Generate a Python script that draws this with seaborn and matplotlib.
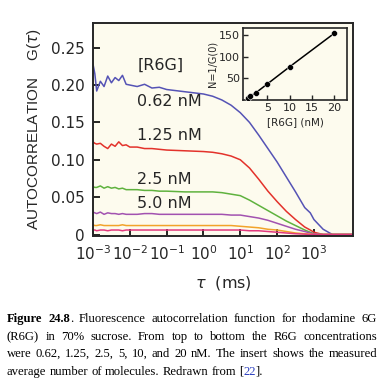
import numpy as np
import pandas as pd
import matplotlib
matplotlib.use("Agg")
import matplotlib.pyplot as plt
import seaborn as sns

# log10 of the delay time tau (ms)
log_tau = [-3.0, -2.95, -2.9, -2.8, -2.7, -2.6, -2.5, -2.4, -2.3, -2.2, -2.1, -2.0,
           -1.8, -1.6, -1.4, -1.2, -1.0, -0.5, 0.0, 0.25, 0.5, 0.75, 1.0, 1.25, 1.5, 1.75,
           2.0, 2.25, 2.5, 2.75, 2.9, 3.0, 3.25, 3.5, 4.05]

g_062 = [0.228, 0.215, 0.192, 0.205, 0.198, 0.212, 0.203, 0.210, 0.206, 0.213, 0.201, 0.200,
         0.198, 0.201, 0.196, 0.197, 0.194, 0.191, 0.188, 0.185, 0.180, 0.173, 0.163, 0.150,
         0.133, 0.115, 0.097, 0.077, 0.057, 0.036, 0.029, 0.020, 0.007, 0.000, 0.000]
g_125 = [0.124, 0.122, 0.121, 0.122, 0.118, 0.115, 0.121, 0.118, 0.124, 0.119, 0.120, 0.117,
         0.117, 0.115, 0.115, 0.114, 0.113, 0.112, 0.111, 0.110, 0.108, 0.105, 0.100, 0.089,
         0.074, 0.058, 0.044, 0.031, 0.020, 0.010, 0.006, 0.003, 0.000, 0.000, 0.000]
g_25 = [0.064, 0.063, 0.063, 0.065, 0.062, 0.064, 0.062, 0.063, 0.061, 0.062, 0.060, 0.060,
        0.060, 0.059, 0.059, 0.058, 0.058, 0.057, 0.057, 0.057, 0.056, 0.054, 0.052, 0.046,
        0.039, 0.032, 0.025, 0.018, 0.012, 0.006, 0.003, 0.001, 0.000, 0.000, 0.000]
g_5 = [0.030, 0.029, 0.028, 0.030, 0.027, 0.029, 0.028, 0.028, 0.027, 0.028, 0.027, 0.027,
       0.027, 0.028, 0.028, 0.027, 0.027, 0.027, 0.027, 0.027, 0.027, 0.026, 0.026, 0.024,
       0.022, 0.019, 0.015, 0.011, 0.007, 0.004, 0.002, 0.001, 0.000, 0.000, 0.000]
g_10 = [0.013, 0.012, 0.012, 0.013, 0.012, 0.012, 0.012, 0.012, 0.012, 0.013, 0.012, 0.012,
        0.012, 0.012, 0.012, 0.012, 0.012, 0.012, 0.012, 0.012, 0.012, 0.012, 0.011, 0.010,
        0.009, 0.007, 0.006, 0.004, 0.002, 0.001, 0.0005, 0.000, 0.000, 0.000, 0.000]
g_20 = [0.006, 0.006, 0.005, 0.006, 0.006, 0.005, 0.006, 0.006, 0.006, 0.005, 0.006, 0.006,
        0.006, 0.006, 0.006, 0.006, 0.006, 0.006, 0.006, 0.006, 0.006, 0.006, 0.006, 0.005,
        0.005, 0.004, 0.003, 0.002, 0.001, 0.0005, 0.000, 0.000, 0.000, 0.000, 0.000]

conc_labels = ["0.62", "1.25", "2.5", "5.0", "10", "20"]
curves = [g_062, g_125, g_25, g_5, g_10, g_20]
colors = ["#5553b5", "#e3322b", "#5fb23e", "#a252b0", "#f2a32a", "#e23a7e"]

# inset: N = 1/G(0) against concentration
inset_conc = [0.62, 1.25, 2.5, 5, 10, 20]
inset_n = [4, 9, 17, 37, 77, 155]

text_labels = ["[R6G]", "0.62 nM", "1.25 nM", "2.5 nM", "5.0 nM"]
text_y = [0.226, 0.178, 0.133, 0.073, 0.041]


def main():
    df = build_frame()
    fig = draw_chart(df)
    draw_caption(fig)
    fig.savefig("out.png", dpi=100)


def build_frame():
    tau = 10 ** np.array(log_tau)
    rows = []
    for lab, g in zip(conc_labels, curves):
        rows.append(pd.DataFrame({"tau": tau, "g": g, "conc": lab}))
    return pd.concat(rows, ignore_index=True)


def draw_chart(df):
    sns.set_style("ticks")
    plt.rcParams["font.family"] = ["DejaVu Sans"]
    plt.rcParams["xtick.direction"] = "in"
    plt.rcParams["ytick.direction"] = "in"

    fig = plt.figure(figsize=(3.82, 3.80), dpi=100)
    fig.patch.set_facecolor("white")
    bg = "#fdfbee"

    ax = fig.add_axes([93 / 382, 1 - 236 / 380, 260 / 382, 213 / 380])
    ax.set_facecolor(bg)
    sns.lineplot(data=df, x="tau", y="g", hue="conc", palette=colors,
                 legend=False, linewidth=1.1, ax=ax, sort=False)
    ax.set_xscale("log")
    ax.set_xlim(1e-3, 1.15e4)
    ax.set_ylim(-0.002, 0.283)
    ax.set_xticks([1e-3, 1e-2, 1e-1, 1e0, 1e1, 1e2, 1e3])
    ax.set_xticklabels([f"$10^{{{e}}}$" for e in range(-3, 4)])
    ax.minorticks_off()
    ax.set_yticks([0, 0.05, 0.10, 0.15, 0.20, 0.25])
    ax.set_yticklabels(["0", "0.05", "0.10", "0.15", "0.20", "0.25"])
    ax.tick_params(labelsize=11, length=5, width=1.2, pad=6, color="black")
    for s in ax.spines.values():
        s.set_linewidth(1.4)
    ax.set_xlabel(r"$\tau$  (ms)", fontsize=11.5, labelpad=8)
    ax.set_ylabel(r"AUTOCORRELATION    G($\tau$)", fontsize=11,
                  family=["Liberation Sans", "DejaVu Sans"], labelpad=6)

    for lab, y in zip(text_labels, text_y):
        ax.text(10 ** -1.8, y, lab, fontsize=11.5, va="center", ha="left")

    # inset
    axi = fig.add_axes([243 / 382, 1 - 100 / 380, 104 / 382, 72 / 380])
    axi.set_facecolor(bg)
    sns.lineplot(x=inset_conc, y=inset_n, color="black", linewidth=1.1, ax=axi)
    sns.scatterplot(x=inset_conc, y=inset_n, color="black", s=18, ax=axi, zorder=3)
    axi.set_xlim(-0.4, 22.8)
    axi.set_ylim(0, 167)
    axi.set_xticks([5, 10, 15, 20])
    axi.set_yticks([50, 100, 150])
    axi.tick_params(labelsize=8, length=3.5, width=1, pad=2)
    for s in axi.spines.values():
        s.set_linewidth(1.2)
    axi.set_xlabel("[R6G] (nM)", fontsize=7.5, labelpad=3)
    axi.set_ylabel("N=1/G(0)", fontsize=7, labelpad=1)
    return fig


def word_runs(word, line_no):
    if line_no == 0 and word in ("Figure",):
        return [(word, "bold", "black")]
    if line_no == 0 and word == "24.8.":
        return [("24.8", "bold", "black"), (".", "normal", "black")]
    if word == "[22].":
        return [("[", "normal", "black"), ("22", "normal", "#2b3fc0"), ("].", "normal", "black")]
    return [(word, "normal", "black")]


def draw_caption(fig):
    lines = [
        "Figure 24.8. Fluorescence autocorrelation function for rhodamine 6G",
        "(R6G) in 70% sucrose. From top to bottom the R6G concentrations",
        "were 0.62, 1.25, 2.5, 5, 10, and 20 nM. The insert shows the measured",
        "average number of molecules. Redrawn from [22].",
    ]
    baselines = [322, 340, 357, 375]
    x0, x1 = 7, 377
    W, H = fig.get_size_inches() * fig.dpi
    renderer = fig.canvas.get_renderer()
    font = dict(family=["Liberation Serif", "DejaVu Serif"], fontsize=9.1)

    for i, (line, yb) in enumerate(zip(lines, baselines)):
        words = line.split(" ")
        texts = []
        widths = []
        for w in words:
            parts = []
            wsum = 0
            for t, weight, col in word_runs(w, i):
                txt = fig.text(0, 0, t, fontweight=weight, color=col, va="baseline", **font)
                bw = txt.get_window_extent(renderer).width
                parts.append((txt, wsum))
                wsum += bw
            texts.append(parts)
            widths.append(wsum)
        if i < len(lines) - 1:
            gap = (x1 - x0 - sum(widths)) / (len(words) - 1)
        else:
            sp = fig.text(0, 0, "a a", **font)
            sp2 = fig.text(0, 0, "aa", **font)
            gap = sp.get_window_extent(renderer).width - sp2.get_window_extent(renderer).width
            sp.remove()
            sp2.remove()
        x = x0
        for parts, w in zip(texts, widths):
            for txt, off in parts:
                txt.set_position(((x + off) / W, 1 - yb / H))
            x += w + gap


if __name__ == "__main__":
    main()
